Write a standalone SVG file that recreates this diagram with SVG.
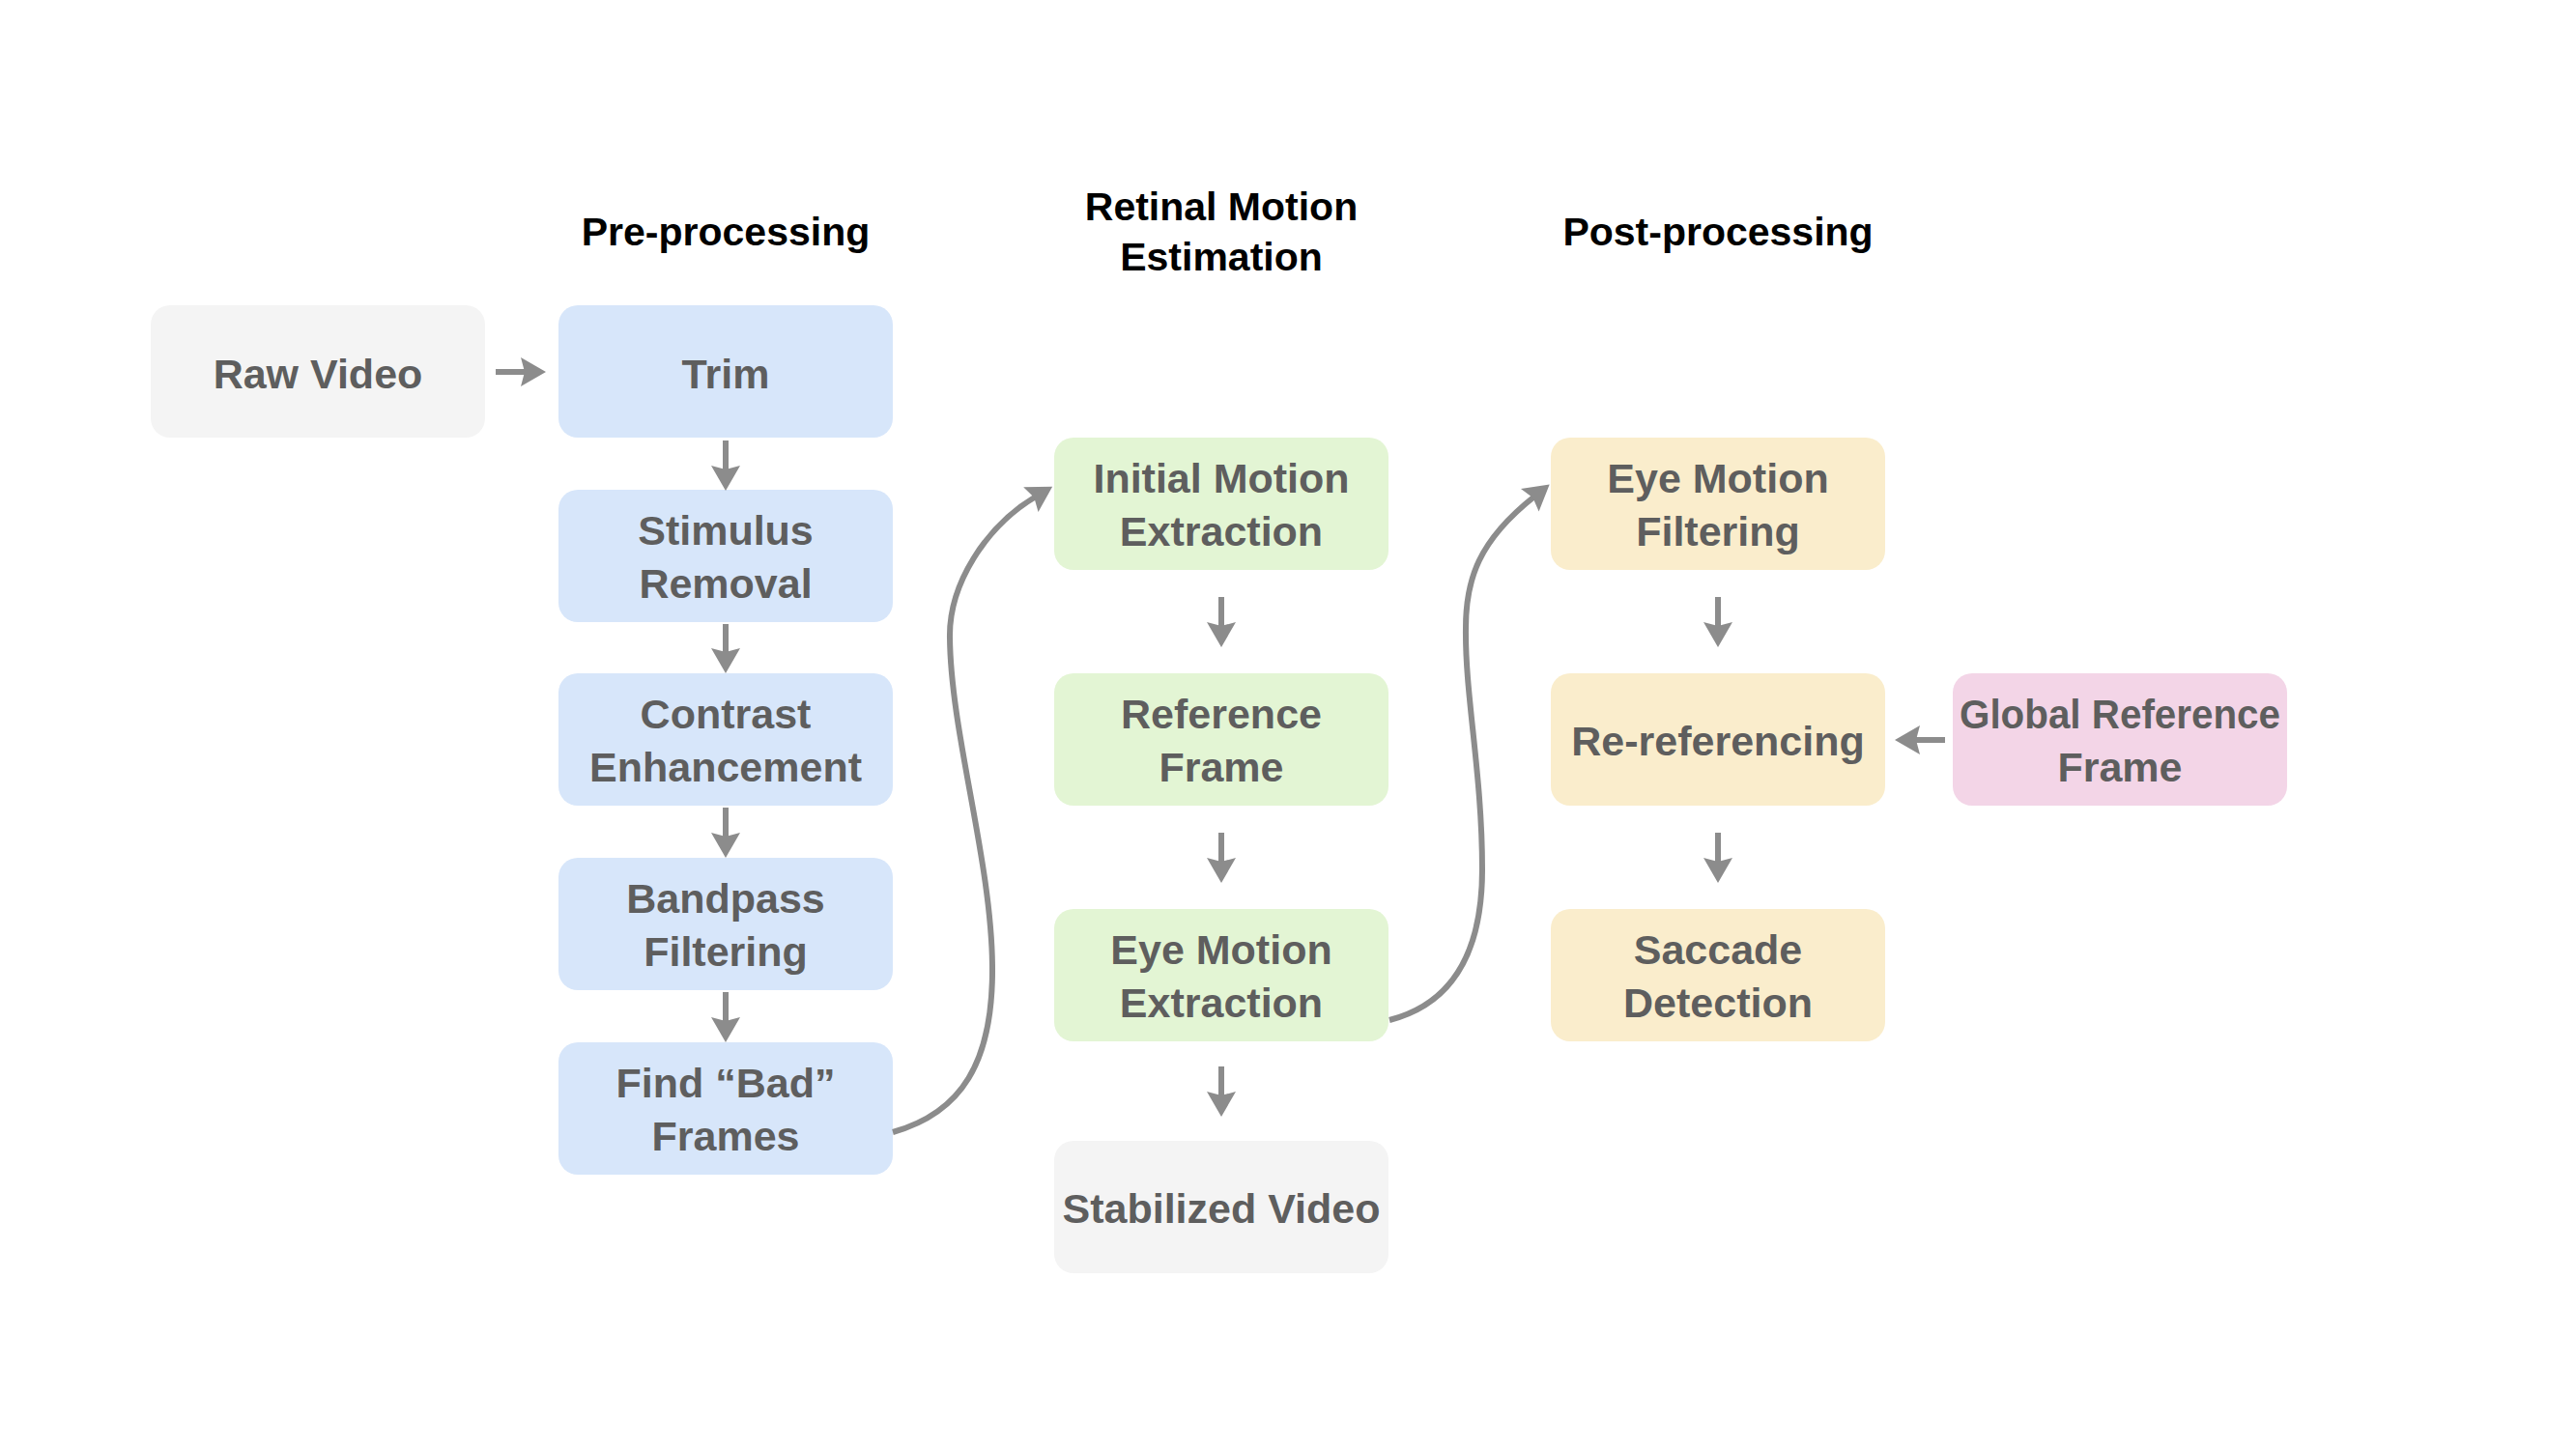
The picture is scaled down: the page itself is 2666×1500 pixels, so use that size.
<svg xmlns="http://www.w3.org/2000/svg" width="2666" height="1500" viewBox="0 0 2666 1500">
<style>
.title{font-family:"Liberation Sans",Arial,sans-serif;font-weight:bold;font-size:41px;fill:#000;text-anchor:middle}
.lbl{font-family:"Liberation Sans",Arial,sans-serif;font-weight:bold;font-size:43px;fill:#5e5e5e;text-anchor:middle}
.gray{fill:#f4f4f4}
.blue{fill:#d7e6fa}
.green{fill:#e3f5d4}
.yellow{fill:#faedcc}
.pink{fill:#f3d5e7}
.conn{stroke:#8c8c8c;stroke-width:6;fill:none;marker-end:url(#ah)}
</style>
<defs>
<marker id="ah" markerUnits="userSpaceOnUse" viewBox="-8 -16 36 32" refX="6" refY="0" markerWidth="36" markerHeight="32" orient="auto">
<path d="M26,0 L0,-15 L4,0 L0,15 Z" fill="#8c8c8c"/>
</marker>
</defs>
<rect width="2666" height="1500" fill="#fff"/>
<g id="titles">
<text class="title" x="751" y="254">Pre-processing</text>
<text class="title" x="1264" y="228">Retinal Motion</text>
<text class="title" x="1264" y="280">Estimation</text>
<text class="title" x="1778" y="254">Post-processing</text>
</g>
<g id="raw-video"><rect class="gray" x="156" y="316" width="346" height="137" rx="20"/><text class="lbl" x="329" y="402">Raw Video</text></g>
<g id="trim"><rect class="blue" x="578" y="316" width="346" height="137" rx="20"/><text class="lbl" x="751" y="402">Trim</text></g>
<g id="stimulus-removal"><rect class="blue" x="578" y="507" width="346" height="137" rx="20"/><text class="lbl" x="751" y="564">Stimulus</text><text class="lbl" x="751" y="619">Removal</text></g>
<g id="contrast-enhancement"><rect class="blue" x="578" y="697" width="346" height="137" rx="20"/><text class="lbl" x="751" y="754">Contrast</text><text class="lbl" x="751" y="809">Enhancement</text></g>
<g id="bandpass-filtering"><rect class="blue" x="578" y="888" width="346" height="137" rx="20"/><text class="lbl" x="751" y="945">Bandpass</text><text class="lbl" x="751" y="1000">Filtering</text></g>
<g id="find-bad-frames"><rect class="blue" x="578" y="1079" width="346" height="137" rx="20"/><text class="lbl" x="751" y="1136">Find “Bad”</text><text class="lbl" x="751" y="1191">Frames</text></g>
<g id="initial-motion-extraction"><rect class="green" x="1091" y="453" width="346" height="137" rx="20"/><text class="lbl" x="1264" y="510">Initial Motion</text><text class="lbl" x="1264" y="565">Extraction</text></g>
<g id="reference-frame"><rect class="green" x="1091" y="697" width="346" height="137" rx="20"/><text class="lbl" x="1264" y="754">Reference</text><text class="lbl" x="1264" y="809">Frame</text></g>
<g id="eye-motion-extraction"><rect class="green" x="1091" y="941" width="346" height="137" rx="20"/><text class="lbl" x="1264" y="998">Eye Motion</text><text class="lbl" x="1264" y="1053">Extraction</text></g>
<g id="stabilized-video"><rect class="gray" x="1091" y="1181" width="346" height="137" rx="20"/><text class="lbl" x="1264" y="1266">Stabilized Video</text></g>
<g id="eye-motion-filtering"><rect class="yellow" x="1605" y="453" width="346" height="137" rx="20"/><text class="lbl" x="1778" y="510">Eye Motion</text><text class="lbl" x="1778" y="565">Filtering</text></g>
<g id="re-referencing"><rect class="yellow" x="1605" y="697" width="346" height="137" rx="20"/><text class="lbl" x="1778" y="782">Re-referencing</text></g>
<g id="saccade-detection"><rect class="yellow" x="1605" y="941" width="346" height="137" rx="20"/><text class="lbl" x="1778" y="998">Saccade</text><text class="lbl" x="1778" y="1053">Detection</text></g>
<g id="global-reference-frame"><rect class="pink" x="2021" y="697" width="346" height="137" rx="20"/><text class="lbl" x="2194" y="754" textLength="332" lengthAdjust="spacingAndGlyphs">Global Reference</text><text class="lbl" x="2194" y="809">Frame</text></g>
<g id="connectors">
<line class="conn" x1="513" y1="385" x2="545" y2="385"/>
<line class="conn" x1="751" y1="456" x2="751" y2="488"/>
<line class="conn" x1="751" y1="646" x2="751" y2="677"/>
<line class="conn" x1="751" y1="836" x2="751" y2="868"/>
<line class="conn" x1="751" y1="1027" x2="751" y2="1059"/>
<line class="conn" x1="1264" y1="618" x2="1264" y2="650"/>
<line class="conn" x1="1264" y1="862" x2="1264" y2="894"/>
<line class="conn" x1="1264" y1="1104" x2="1264" y2="1136"/>
<line class="conn" x1="1778" y1="618" x2="1778" y2="650"/>
<line class="conn" x1="1778" y1="862" x2="1778" y2="894"/>
<line class="conn" x1="2013" y1="766" x2="1981" y2="766"/>
<path class="conn" d="M924,1172 C995,1152 1028,1100 1027,1000 C1026,890 984,760 983,660 C982,605 1020,545 1072,514"/>
<path class="conn" d="M1438,1056 C1500,1040 1534,990 1534,900 C1534,800 1516,720 1517,650 C1517,600 1530,560 1588,514"/>
</g>
</svg>
